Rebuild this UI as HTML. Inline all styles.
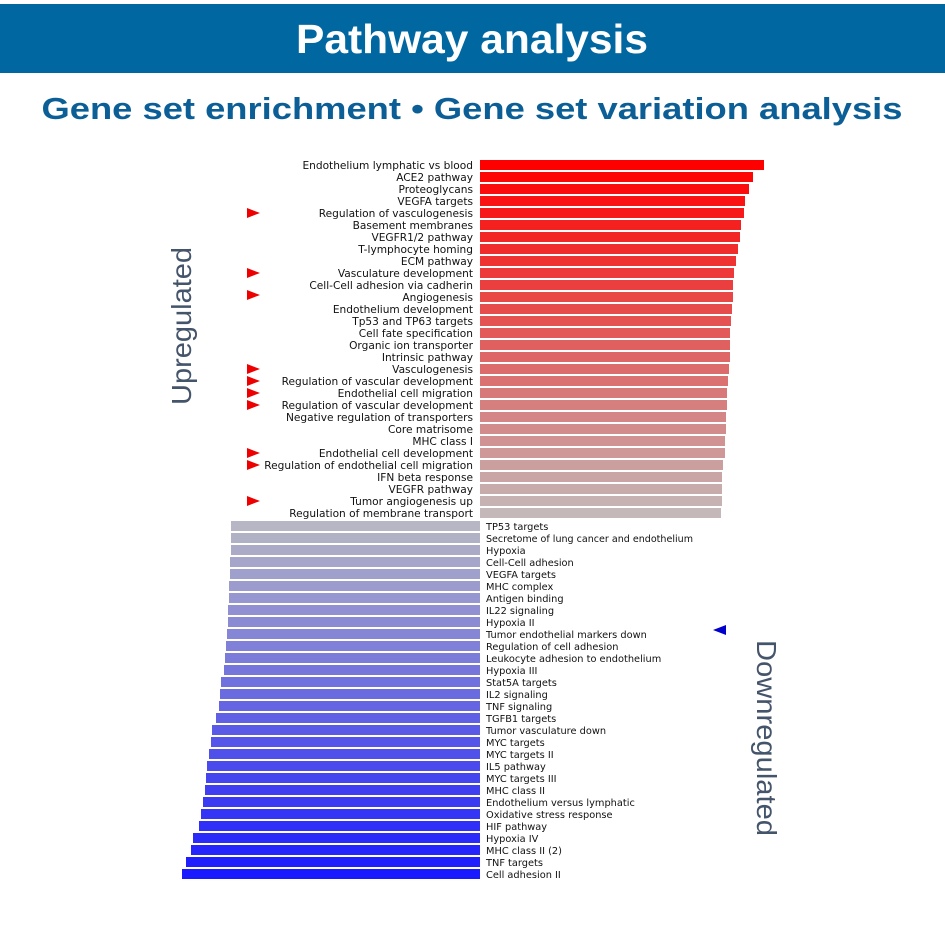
<!DOCTYPE html>
<html><head><meta charset="utf-8"><style>
html,body{margin:0;padding:0;background:#fff;}
svg{display:block;}
.l{font-family:"DejaVu Sans","Liberation Sans",sans-serif;font-size:10px;fill:#111;}
.u text{text-anchor:end;font-size:10.6px;}
.d text{font-size:9.8px;}
</style></head><body>
<svg width="945" height="945" viewBox="0 0 945 945" xmlns="http://www.w3.org/2000/svg">
<rect x="0" y="4" width="945" height="69" fill="#0067a0"/>
<text x="472" y="53" text-anchor="middle" font-family="Liberation Sans,sans-serif" font-weight="bold" font-size="41" fill="#fff" textLength="352" lengthAdjust="spacingAndGlyphs">Pathway analysis</text>
<text x="472" y="119" text-anchor="middle" font-family="Liberation Sans,sans-serif" font-weight="bold" font-size="31" fill="#0b5f96" textLength="861" lengthAdjust="spacingAndGlyphs">Gene set enrichment  •  Gene set variation analysis</text>
<text transform="translate(191,326) rotate(-90)" text-anchor="middle" font-family="Liberation Sans,sans-serif" font-size="28" fill="#44546a" textLength="158" lengthAdjust="spacingAndGlyphs">Upregulated</text>
<text transform="translate(757,738) rotate(90)" text-anchor="middle" font-family="Liberation Sans,sans-serif" font-size="28" fill="#44546a" textLength="196" lengthAdjust="spacingAndGlyphs">Downregulated</text>

<g class="l u">
<rect x="480" y="160" width="284" height="10" fill="rgb(255,0,0)"/><text x="473" y="169">Endothelium lymphatic vs blood</text>
<rect x="480" y="172" width="273" height="10" fill="rgb(253,6,6)"/><text x="473" y="181">ACE2 pathway</text>
<rect x="480" y="184" width="269" height="10" fill="rgb(251,13,13)"/><text x="473" y="193">Proteoglycans</text>
<rect x="480" y="196" width="265" height="10" fill="rgb(249,19,19)"/><text x="473" y="205">VEGFA targets</text>
<rect x="480" y="208" width="264" height="10" fill="rgb(247,25,25)"/><text x="473" y="217">Regulation of vasculogenesis</text>
<rect x="480" y="220" width="261" height="10" fill="rgb(245,32,32)"/><text x="473" y="229">Basement membranes</text>
<rect x="480" y="232" width="260" height="10" fill="rgb(243,38,38)"/><text x="473" y="241">VEGFR1/2 pathway</text>
<rect x="480" y="244" width="258" height="10" fill="rgb(241,44,44)"/><text x="473" y="253">T-lymphocyte homing</text>
<rect x="480" y="256" width="256" height="10" fill="rgb(239,51,51)"/><text x="473" y="265">ECM pathway</text>
<rect x="480" y="268" width="254" height="10" fill="rgb(237,57,57)"/><text x="473" y="277">Vasculature development</text>
<rect x="480" y="280" width="253" height="10" fill="rgb(235,63,63)"/><text x="473" y="289">Cell-Cell adhesion via cadherin</text>
<rect x="480" y="292" width="253" height="10" fill="rgb(233,70,70)"/><text x="473" y="301">Angiogenesis</text>
<rect x="480" y="304" width="252" height="10" fill="rgb(231,76,76)"/><text x="473" y="313">Endothelium development</text>
<rect x="480" y="316" width="251" height="10" fill="rgb(229,82,82)"/><text x="473" y="325">Tp53 and TP63 targets</text>
<rect x="480" y="328" width="250" height="10" fill="rgb(227,89,89)"/><text x="473" y="337">Cell fate specification</text>
<rect x="480" y="340" width="250" height="10" fill="rgb(224,95,95)"/><text x="473" y="349">Organic ion transporter</text>
<rect x="480" y="352" width="250" height="10" fill="rgb(222,102,102)"/><text x="473" y="361">Intrinsic pathway</text>
<rect x="480" y="364" width="249" height="10" fill="rgb(220,108,108)"/><text x="473" y="373">Vasculogenesis</text>
<rect x="480" y="376" width="248" height="10" fill="rgb(218,114,114)"/><text x="473" y="385">Regulation of vascular development</text>
<rect x="480" y="388" width="247" height="10" fill="rgb(216,121,121)"/><text x="473" y="397">Endothelial cell migration</text>
<rect x="480" y="400" width="247" height="10" fill="rgb(214,127,127)"/><text x="473" y="409">Regulation of vascular development</text>
<rect x="480" y="412" width="246" height="10" fill="rgb(212,133,133)"/><text x="473" y="421">Negative regulation of transporters</text>
<rect x="480" y="424" width="246" height="10" fill="rgb(210,140,140)"/><text x="473" y="433">Core matrisome</text>
<rect x="480" y="436" width="245" height="10" fill="rgb(208,146,146)"/><text x="473" y="445">MHC class I</text>
<rect x="480" y="448" width="245" height="10" fill="rgb(206,152,152)"/><text x="473" y="457">Endothelial cell development</text>
<rect x="480" y="460" width="243" height="10" fill="rgb(204,159,159)"/><text x="473" y="469">Regulation of endothelial cell migration</text>
<rect x="480" y="472" width="242" height="10" fill="rgb(202,165,165)"/><text x="473" y="481">IFN beta response</text>
<rect x="480" y="484" width="242" height="10" fill="rgb(200,171,171)"/><text x="473" y="493">VEGFR pathway</text>
<rect x="480" y="496" width="242" height="10" fill="rgb(198,178,178)"/><text x="473" y="505">Tumor angiogenesis up</text>
<rect x="480" y="508" width="241" height="10" fill="rgb(196,184,184)"/><text x="473" y="517">Regulation of membrane transport</text>
</g>

<g class="l d">
<rect x="231" y="521" width="249" height="10" fill="rgb(182,182,196)"/><text x="486" y="530">TP53 targets</text>
<rect x="231" y="533" width="249" height="10" fill="rgb(177,177,198)"/><text x="486" y="542" textLength="207" lengthAdjust="spacingAndGlyphs">Secretome of lung cancer and endothelium</text>
<rect x="231" y="545" width="249" height="10" fill="rgb(171,171,200)"/><text x="486" y="554">Hypoxia</text>
<rect x="230" y="557" width="250" height="10" fill="rgb(166,166,202)"/><text x="486" y="566">Cell-Cell adhesion</text>
<rect x="230" y="569" width="250" height="10" fill="rgb(160,160,204)"/><text x="486" y="578">VEGFA targets</text>
<rect x="229" y="581" width="251" height="10" fill="rgb(155,155,206)"/><text x="486" y="590">MHC complex</text>
<rect x="229" y="593" width="251" height="10" fill="rgb(150,150,208)"/><text x="486" y="602">Antigen binding</text>
<rect x="228" y="605" width="252" height="10" fill="rgb(144,144,210)"/><text x="486" y="614">IL22 signaling</text>
<rect x="228" y="617" width="252" height="10" fill="rgb(139,139,212)"/><text x="486" y="626">Hypoxia II</text>
<rect x="227" y="629" width="253" height="10" fill="rgb(134,134,214)"/><text x="486" y="638">Tumor endothelial markers down</text>
<rect x="226" y="641" width="254" height="10" fill="rgb(128,128,216)"/><text x="486" y="650">Regulation of cell adhesion</text>
<rect x="225" y="653" width="255" height="10" fill="rgb(123,123,218)"/><text x="486" y="662">Leukocyte adhesion to endothelium</text>
<rect x="224" y="665" width="256" height="10" fill="rgb(117,117,220)"/><text x="486" y="674">Hypoxia III</text>
<rect x="221" y="677" width="259" height="10" fill="rgb(112,112,223)"/><text x="486" y="686">Stat5A targets</text>
<rect x="220" y="689" width="260" height="10" fill="rgb(107,107,224)"/><text x="486" y="698">IL2 signaling</text>
<rect x="219" y="701" width="261" height="10" fill="rgb(101,101,227)"/><text x="486" y="710">TNF signaling</text>
<rect x="216" y="713" width="264" height="10" fill="rgb(96,96,229)"/><text x="486" y="722">TGFB1 targets</text>
<rect x="212" y="725" width="268" height="10" fill="rgb(90,90,231)"/><text x="486" y="734">Tumor vasculature down</text>
<rect x="211" y="737" width="269" height="10" fill="rgb(85,85,233)"/><text x="486" y="746">MYC targets</text>
<rect x="209" y="749" width="271" height="10" fill="rgb(80,80,235)"/><text x="486" y="758">MYC targets II</text>
<rect x="207" y="761" width="273" height="10" fill="rgb(74,74,237)"/><text x="486" y="770">IL5 pathway</text>
<rect x="206" y="773" width="274" height="10" fill="rgb(69,69,239)"/><text x="486" y="782">MYC targets III</text>
<rect x="205" y="785" width="275" height="10" fill="rgb(63,63,241)"/><text x="486" y="794">MHC class II</text>
<rect x="203" y="797" width="277" height="10" fill="rgb(58,58,243)"/><text x="486" y="806">Endothelium versus lymphatic</text>
<rect x="201" y="809" width="279" height="10" fill="rgb(53,53,245)"/><text x="486" y="818">Oxidative stress response</text>
<rect x="199" y="821" width="281" height="10" fill="rgb(47,47,247)"/><text x="486" y="830">HIF pathway</text>
<rect x="193" y="833" width="287" height="10" fill="rgb(42,42,249)"/><text x="486" y="842">Hypoxia IV</text>
<rect x="191" y="845" width="289" height="10" fill="rgb(36,36,251)"/><text x="486" y="854">MHC class II (2)</text>
<rect x="186" y="857" width="294" height="10" fill="rgb(31,31,253)"/><text x="486" y="866">TNF targets</text>
<rect x="182" y="869" width="298" height="10" fill="rgb(26,26,255)"/><text x="486" y="878">Cell adhesion II</text>
</g>

<g fill="#ee0000">
<polygon points="247,208 260,213 247,218"/>
<polygon points="247,268 260,273 247,278"/>
<polygon points="247,290 260,295 247,300"/>
<polygon points="247,364 260,369 247,374"/>
<polygon points="247,376 260,381 247,386"/>
<polygon points="247,388 260,393 247,398"/>
<polygon points="247,400 260,405 247,410"/>
<polygon points="247,448 260,453 247,458"/>
<polygon points="247,460 260,465 247,470"/>
<polygon points="247,496 260,501 247,506"/>
</g>
<polygon points="726,625 713,630 726,635" fill="#0000cc"/>
</svg>
</body></html>
